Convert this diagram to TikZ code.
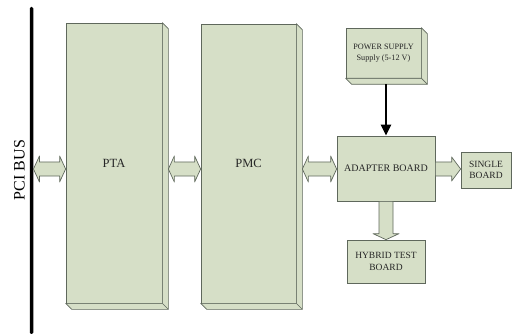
\documentclass[tikz,border=0pt]{standalone}
\usepackage{fontspec}
\setmainfont{Liberation Serif}
\usepackage{tikz}
\usetikzlibrary{arrows.meta,calc,positioning}
\definecolor{boardfill}{RGB}{214,223,199}
\definecolor{boardline}{RGB}{95,104,92}
\tikzstyle{board} = [rectangle, draw=boardline, fill=boardfill, line width=0.7pt, inner sep=0pt, align=center, text=black!85]
\tikzstyle{face} = [draw=boardline, fill=boardfill, line width=0.7pt, line join=round]
\tikzstyle{busbar} = [rectangle, fill=black, inner sep=0pt, minimum width=3.5pt, minimum height=327pt, rounded corners=1.5pt]
\tikzstyle{dblarrow} = [face, to path={let \p1=(\tikztostart), \p2=(\tikztotarget) in
  (\p1) -- ++(6,-13) -- ++(0,6) -- (\x2-6pt,\y2+7pt) -- ++(0,-6) -- (\p2) -- ++(-6,13) -- ++(0,-6)
  -- (\x1+6pt,\y1-7pt) -- ++(0,6) -- cycle}]
\tikzstyle{rarrow} = [face, to path={let \p1=(\tikztostart), \p2=(\tikztotarget) in
  (\x1,\y1+7pt) -- (\x2-9pt,\y2+7pt) -- ++(0,-5) -- (\p2) -- (\x2-9pt,\y2-12pt) -- ++(0,-5)
  -- (\x1,\y1-7pt) -- cycle}]
\tikzstyle{darrow} = [face, to path={let \p1=(\tikztostart), \p2=(\tikztotarget) in
  (\x1-7pt,\y1) -- (\x1-7pt,\y2+6pt) -- (\x1-13pt,\y2+6pt) -- (\p2) -- (\x1+13pt,\y2+6pt)
  -- (\x1+7pt,\y2+6pt) -- (\x1+7pt,\y1) -- cycle}]
\tikzstyle{arrow} = [line width=2.6pt, -{Triangle[length=11pt,width=10pt]}]

\begin{document}
\begin{tikzpicture}[x=1pt,y=-1pt]
\useasboundingbox (0,0) rectangle (514,334);

\node (bus) [busbar] at (31.5,170.5) {};
\node (buslabel) [rotate=90, font=\fontsize{16}{18}\selectfont] at (19.5,170) {PCI BUS};

\node (pta) [board, minimum width=96pt, minimum height=280pt, font=\fontsize{12.5}{14}\selectfont] at (114,163) {PTA};
\node (pmc) [board, minimum width=95pt, minimum height=279pt, font=\fontsize{12.5}{14}\selectfont] at (248.5,163.5) {PMC};
\node (psu) [board, minimum width=75pt, minimum height=50pt, font=\fontsize{8.2}{10.5}\selectfont] at (383.5,53) {POWER SUPPLY\\Supply (5-12 V)};
\node (adapter) [board, minimum width=98pt, minimum height=65pt, font=\fontsize{10}{12}\selectfont] at (386,168.5) {ADAPTER BOARD};
\node (single) [board, minimum width=50pt, minimum height=36pt, font=\fontsize{9.5}{11.5}\selectfont] at (486,170) {SINGLE\\BOARD};
\node (hybrid) [board, minimum width=78pt, minimum height=43pt, font=\fontsize{9.5}{11.7}\selectfont] at (386,261.5) {HYBRID TEST\\BOARD};

%depth of the raised boards
\foreach \n in {pta,pmc,psu}{
  \draw[face] (\n.north east) -- ++(6,6) -- ([shift={(6,6)}]\n.south east) -- ([shift={(6,6)}]\n.south west)
    -- (\n.south west) -- (\n.south east) -- cycle;
  \draw[face] (\n.south east) -- ++(6,6);
}

%arrows
\coordinate (lvl) at (0,169);
\draw [dblarrow] (bus.east |- lvl) to (pta.west |- lvl);
\draw [dblarrow] ([xshift=6pt]pta.east |- lvl) to (pmc.west |- lvl);
\draw [dblarrow] ([xshift=6pt]pmc.east |- lvl) to (adapter.west |- lvl);
\draw [rarrow] (adapter.east |- lvl) to (single.west |- lvl);
\draw [darrow] (adapter.south) to (hybrid.north);
\draw [arrow] ([yshift=-6pt]adapter.north |- psu.south) -- (adapter.north);

\end{tikzpicture}
\end{document}
